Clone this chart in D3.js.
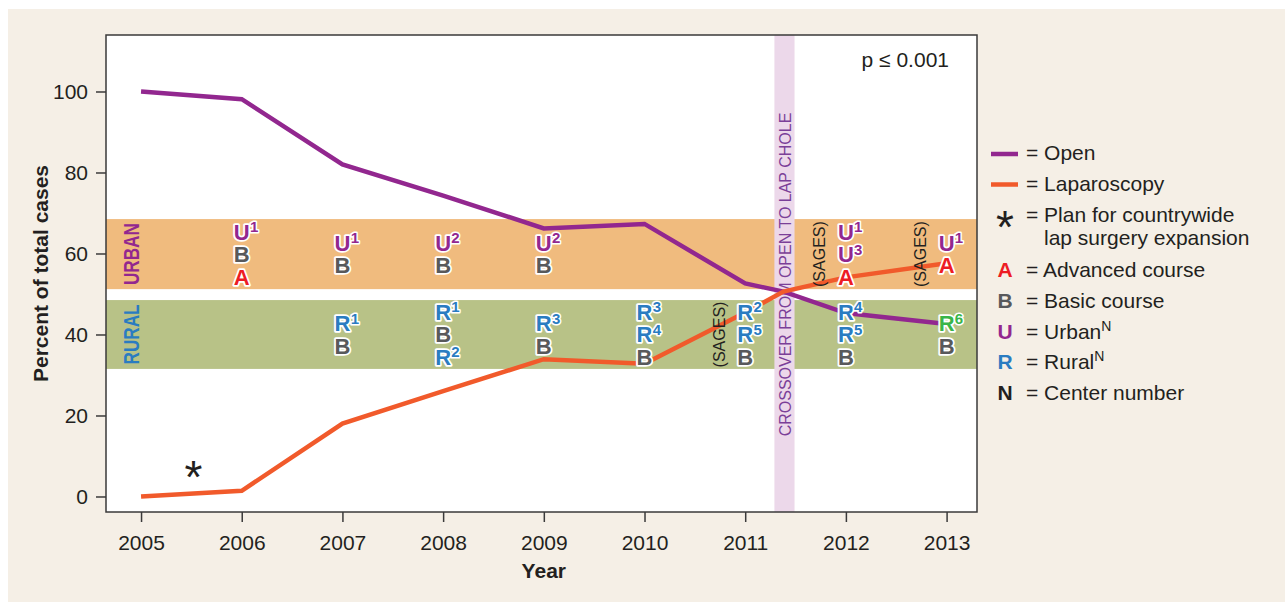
<!DOCTYPE html>
<html>
<head>
<meta charset="utf-8">
<script src="https://cdn.jsdelivr.net/npm/d3@7/dist/d3.min.js"></script>
<style>
  html, body { margin: 0; padding: 0; background: #ffffff; }
  svg { display: block; font-family: "Liberation Sans", Arial, Helvetica, sans-serif; }
</style>
</head>
<body>
<svg id="chart" width="1285" height="602"></svg>
<script>
// ---------------- DATA ----------------
const years = [2005, 2006, 2007, 2008, 2009, 2010, 2011, 2012, 2013];
const openPct = [100, 98.1, 82.0, 74.3, 66.2, 67.3, 52.6, 45.3, 42.6];
const lapPct  = [0, 1.4, 18.0, 26.0, 33.9, 32.8, 45.4, 54.1, 57.6];
const crossoverYear = 2011.38;
const crossoverPct = 50.6;
const crossoverBandYears = [2011.29, 2011.49];
const urbanBand = [51.2, 68.5];
const ruralBand = [31.5, 48.5];
const yTicks = [0, 20, 40, 60, 80, 100];
const xTicks = years;
const urbanNotes = [
  { year: 2006, items: ["U1", "B", "A"] },
  { year: 2007, items: ["U1", "B"] },
  { year: 2008, items: ["U2", "B"] },
  { year: 2009, items: ["U2", "B"] },
  { year: 2012, items: ["U1", "U3", "A"] },
  { year: 2013, items: ["U1", "A"] }
];
const ruralNotes = [
  { year: 2007, items: ["R1", "B"] },
  { year: 2008, items: ["R1", "B", "R2"] },
  { year: 2009, items: ["R3", "B"] },
  { year: 2010, items: ["R3", "R4", "B"] },
  { year: 2011, items: ["R2", "R5", "B"] },
  { year: 2012, items: ["R4", "R5", "B"] },
  { year: 2013, items: ["R6", "B"] }
];
const sagesNotes = [
  { year: 2011, band: "rural" },
  { year: 2012, band: "urban" },
  { year: 2013, band: "urban" }
];
const planYear = 2005.52;
const planPct = 7;
const legendLines = [
  { key: "open", label: "Open" },
  { key: "lap", label: "Laparoscopy" }
];
const legendSymbols = [
  { sym: "A", label: "Advanced course", sup: "" },
  { sym: "B", label: "Basic course", sup: "" },
  { sym: "U", label: "Urban", sup: "N" },
  { sym: "R", label: "Rural", sup: "N" },
  { sym: "N", label: "Center number", sup: "" }
];

// ---------------- STYLE ----------------
const C = {
  bg: "#f5efe6", open: "#92278f", lap: "#f15a2b", urban: "#f0bb7e", rural: "#b8c287",
  cross: "#ecd8ea", crossText: "#7b3f98", axis: "#3a3a3a", text: "#231f20"
};
const letterColor = { U: "#92278f", B: "#58595b", A: "#ed1c24", R: "#2a7cc1", N: "#231f20" };
const itemOverride = { R6: "#39b54a" };
const FS = 21;

const svg = d3.select("#chart");
const W = 1285, H = 602;
svg.append("rect").attr("x", 8).attr("y", 9).attr("width", W - 8).attr("height", H - 9).attr("fill", C.bg);

const plot = { l: 106, r: 977, t: 35, b: 512 };
const x = d3.scaleLinear().domain([2004.652, 2013.302]).range([plot.l, plot.r]);
const y = d3.scaleLinear().domain([-3.83, 113.95]).range([plot.b, plot.t]);

svg.append("rect").attr("x", plot.l).attr("y", plot.t).attr("width", plot.r - plot.l).attr("height", plot.b - plot.t).attr("fill", "#ffffff");

// bands
svg.append("rect").attr("x", plot.l).attr("width", plot.r - plot.l)
  .attr("y", y(urbanBand[1])).attr("height", y(urbanBand[0]) - y(urbanBand[1])).attr("fill", C.urban);
svg.append("rect").attr("x", plot.l).attr("width", plot.r - plot.l)
  .attr("y", y(ruralBand[1])).attr("height", y(ruralBand[0]) - y(ruralBand[1])).attr("fill", C.rural);

// crossover band
svg.append("rect").attr("x", x(crossoverBandYears[0])).attr("width", x(crossoverBandYears[1]) - x(crossoverBandYears[0]))
  .attr("y", plot.t).attr("height", plot.b - plot.t).attr("fill", C.cross);
const cx = (x(crossoverBandYears[0]) + x(crossoverBandYears[1])) / 2;
svg.append("text").attr("transform", `translate(${cx + 1},${(plot.t + plot.b) / 2 + 1}) rotate(-90)`)
  .attr("text-anchor", "middle").attr("dominant-baseline", "central")
  .attr("font-size", 16).attr("fill", C.crossText).text("CROSSOVER FROM OPEN TO LAP CHOLE");

// band labels
function bandLabel(txt, band, color) {
  const cy = (y(band[0]) + y(band[1])) / 2;
  svg.append("text").attr("transform", `translate(131,${cy}) rotate(-90)`)
    .attr("text-anchor", "middle").attr("dominant-baseline", "central")
    .attr("font-size", 22).attr("font-weight", "bold").attr("fill", color)
    .attr("textLength", txt === "URBAN" ? 62 : 60).attr("lengthAdjust", "spacingAndGlyphs")
    .text(txt);
}
bandLabel("URBAN", urbanBand, letterColor.U);
bandLabel("RURAL", ruralBand, letterColor.R);

// lines
function withCross(vals) {
  const pts = years.map((yr, i) => [yr, vals[i]]);
  pts.push([crossoverYear, crossoverPct]);
  return pts.sort((a, b) => a[0] - b[0]);
}
const line = d3.line().x(d => x(d[0])).y(d => y(d[1]));
svg.append("path").attr("d", line(withCross(openPct))).attr("fill", "none")
  .attr("stroke", C.open).attr("stroke-width", 4.5).attr("stroke-linejoin", "miter");
svg.append("path").attr("d", line(withCross(lapPct))).attr("fill", "none")
  .attr("stroke", C.lap).attr("stroke-width", 4.5).attr("stroke-linejoin", "miter");

// SAGES notes
sagesNotes.forEach(n => {
  const band = n.band === "urban" ? urbanBand : ruralBand;
  const cy = (y(band[0]) + y(band[1])) / 2;
  svg.append("text").attr("transform", `translate(${x(n.year) - 26},${cy}) rotate(-90)`)
    .attr("text-anchor", "middle").attr("dominant-baseline", "central")
    .attr("font-size", 16).attr("fill", C.text).text("(SAGES)");
});

// annotation letters
function drawNotes(notes, band, spacing) {
  const cy = (y(band[0]) + y(band[1])) / 2;
  notes.forEach(n => {
    const k = n.items.length;
    n.items.forEach((it, i) => {
      const letter = it[0], sup = it.slice(1);
      const col = itemOverride[it] || letterColor[letter];
      const bx = x(n.year);
      const by = cy + (i - (k - 1) / 2) * spacing + 8;
      svg.append("text").attr("x", bx).attr("y", by).attr("text-anchor", "middle")
        .attr("font-size", 22).attr("font-weight", "bold").attr("fill", col)
        .attr("stroke", "#ffffff").attr("stroke-width", 3.6).attr("paint-order", "stroke")
        .attr("stroke-linejoin", "round").text(letter);
      if (sup) {
        svg.append("text").attr("x", bx + 8.2).attr("y", by - 7.5).attr("text-anchor", "start")
          .attr("font-size", 15).attr("font-weight", "bold").attr("fill", col)
          .attr("stroke", "#ffffff").attr("stroke-width", 3.2).attr("paint-order", "stroke")
          .attr("stroke-linejoin", "round").text(sup);
      }
    });
  });
}
drawNotes(urbanNotes, urbanBand, 22.5);
drawNotes(ruralNotes, ruralBand, 22.5);

// asterisk
svg.append("text").attr("x", x(planYear)).attr("y", y(planPct) + 25).attr("text-anchor", "middle")
  .attr("font-size", 46).attr("fill", C.text).text("*");

// frame
svg.append("rect").attr("x", plot.l).attr("y", plot.t).attr("width", plot.r - plot.l).attr("height", plot.b - plot.t)
  .attr("fill", "none").attr("stroke", C.axis).attr("stroke-width", 1.5);

// axes
const yAxis = d3.axisLeft(y).tickValues(yTicks).tickSize(10).tickPadding(8).tickFormat(d3.format("d"));
const gy = svg.append("g").attr("transform", `translate(${plot.l},0)`).call(yAxis);
const xAxis = d3.axisBottom(x).tickValues(xTicks).tickSize(10).tickPadding(13).tickFormat(d3.format("d"));
const gx = svg.append("g").attr("transform", `translate(0,${plot.b})`).call(xAxis);
[gy, gx].forEach(g => {
  g.select(".domain").remove();
  g.selectAll(".tick line").attr("stroke", C.axis).attr("stroke-width", 1.5);
  g.selectAll(".tick text").attr("fill", C.text).attr("font-size", FS)
    .attr("font-family", "'Liberation Sans', Arial, sans-serif");
});

// axis titles
svg.append("text").attr("transform", `translate(40,${(plot.t + plot.b) / 2}) rotate(-90)`)
  .attr("text-anchor", "middle").attr("dominant-baseline", "central")
  .attr("font-size", FS).attr("font-weight", "bold").attr("fill", C.text).text("Percent of total cases");
svg.append("text").attr("x", x(2009)).attr("y", 578).attr("text-anchor", "middle")
  .attr("font-size", FS).attr("font-weight", "bold").attr("fill", C.text).text("Year");

// p-value
svg.append("text").attr("x", 949).attr("y", 67).attr("text-anchor", "end")
  .attr("font-size", FS).attr("fill", C.text).text("p \u2264 0.001");

// legend
const lg = svg.append("g");
const symX = 1005, eqX = 1026;
legendLines.forEach((d, i) => {
  const by = 160 + i * 30.5;
  lg.append("line").attr("x1", 991).attr("x2", 1018).attr("y1", by - 6).attr("y2", by - 6)
    .attr("stroke", d.key === "open" ? C.open : C.lap).attr("stroke-width", 4.5);
  lg.append("text").attr("x", eqX).attr("y", by).attr("font-size", FS).attr("fill", C.text).text("= " + d.label);
});
lg.append("text").attr("x", symX).attr("y", 243).attr("text-anchor", "middle")
  .attr("font-size", 46).attr("fill", C.text).text("*");
lg.append("text").attr("x", eqX).attr("y", 221.5).attr("font-size", FS).attr("fill", C.text).text("= Plan for countrywide");
lg.append("text").attr("x", 1044).attr("y", 245).attr("font-size", FS).attr("fill", C.text).text("lap surgery expansion");
legendSymbols.forEach((d, i) => {
  const by = 277 + i * 30.8;
  lg.append("text").attr("x", symX).attr("y", by).attr("text-anchor", "middle")
    .attr("font-size", FS).attr("font-weight", "bold").attr("fill", letterColor[d.sym]).text(d.sym);
  const t = lg.append("text").attr("x", eqX).attr("y", by).attr("font-size", FS).attr("fill", C.text);
  t.append("tspan").text("= " + d.label);
  if (d.sup) t.append("tspan").attr("font-size", 14).attr("dy", -8).text(d.sup);
});
</script>
</body>
</html>
